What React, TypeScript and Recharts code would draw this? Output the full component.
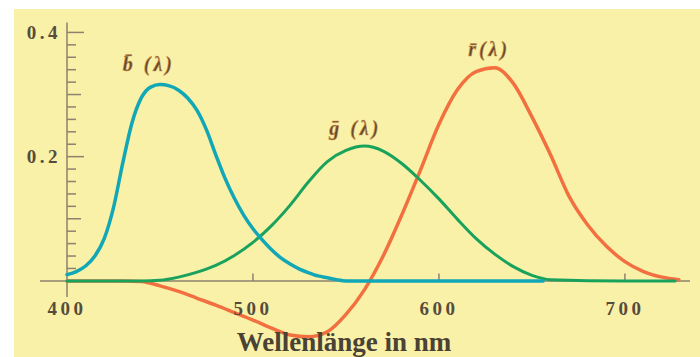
import { LineChart, Line, XAxis, YAxis, ReferenceLine, ReferenceDot } from 'recharts';

// wavelengths (nm) and tristimulus values
const blueNm = [400, 405, 410, 415, 420, 425, 430, 435, 440, 445, 450, 455, 460, 465, 470, 475, 480, 485, 490, 495, 500, 505, 510, 515, 520, 525, 530, 535, 540, 545, 550, 600, 656];
const blueVal = [0.010, 0.015, 0.024, 0.040, 0.068, 0.118, 0.190, 0.255, 0.295, 0.312, 0.316, 0.314, 0.307, 0.294, 0.274, 0.243, 0.203, 0.165, 0.133, 0.106, 0.084, 0.066, 0.050, 0.037, 0.027, 0.019, 0.013, 0.008, 0.005, 0.002, 0, 0, 0];

const greenNm = [400, 440, 450, 460, 470, 480, 490, 500, 510, 520, 530, 540, 550, 560, 570, 580, 590, 600, 610, 620, 630, 640, 650, 660, 700, 727];
const greenVal = [0, 0, 0.001, 0.006, 0.014, 0.025, 0.041, 0.062, 0.089, 0.122, 0.160, 0.192, 0.210, 0.217, 0.209, 0.189, 0.162, 0.132, 0.099, 0.068, 0.043, 0.023, 0.009, 0.002, 0, 0];

const redNm = [400, 430, 440, 450, 460, 470, 480, 490, 500, 510, 520, 530, 540, 550, 560, 570, 580, 590, 600, 610, 620, 630, 640, 650, 660, 670, 680, 690, 700, 710, 720, 729];
const redVal = [0, 0, -0.001, -0.008, -0.017, -0.028, -0.039, -0.051, -0.063, -0.076, -0.087, -0.090, -0.082, -0.054, -0.014, 0.040, 0.106, 0.178, 0.252, 0.308, 0.337, 0.343, 0.318, 0.264, 0.203, 0.136, 0.090, 0.056, 0.031, 0.015, 0.006, 0.002];

const yTicks = [0.02, 0.04, 0.06, 0.08, 0.1, 0.12, 0.14, 0.16, 0.18, 0.2, 0.22, 0.24, 0.26, 0.28, 0.3, 0.32, 0.34, 0.36, 0.38, 0.4];
const yMajor = [0.2, 0.4];
const yMid = [0.1, 0.3];
const xTicks = [500, 600, 700];
const xLabels = [400, 500, 600, 700];

const curveLabels = [
  { text: 'b\u0304 (\u03bb)', nm: 444, value: 0.349 },
  { text: 'g\u0304 (\u03bb)', nm: 555, value: 0.246 },
  { text: 'r\u0304(\u03bb)', nm: 627, value: 0.373 },
];

const BG = '#f9f1a8';
const AXIS = '#8d826f';
const INK = '#564c3c';
const SERIF = '"Liberation Serif", "DejaVu Serif", serif';

const toPoints = (xs: number[], ys: number[]) => xs.map((nm, i) => ({ nm, v: ys[i] }));

function YTick(props: any) {
  const { x, y, payload } = props;
  const v = payload.value;
  const major = yMajor.includes(v);
  const len = major ? 17 : yMid.includes(v) ? 14 : 9;
  return (
    <g>
      <line x1={x} x2={x + len} y1={y} y2={y} stroke={AXIS} strokeWidth={1.5} />
      {major && (
        <text x={x - 6} y={y} dy="0.35em" textAnchor="end" fill={INK} fontFamily={SERIF}
          fontWeight="bold" fontSize={19} letterSpacing={3.5}>
          {v.toFixed(1)}
        </text>
      )}
    </g>
  );
}

export default function App() {
  return (
    <div style={{ position: 'fixed', left: 0, top: 0, width: 700, height: 357, background: '#fff' }}>
      <div style={{ position: 'absolute', left: 14, top: 9, right: 0, bottom: 0, background: BG }} />
      <div style={{ position: 'absolute', left: 0, top: 0 }}>
        <LineChart width={700} height={357} margin={{ top: 20, right: 10, bottom: 14, left: 17 }}>
          <XAxis dataKey="nm" type="number" domain={[400, 735]} hide />
          <YAxis type="number" domain={[-0.1, 0.42]} ticks={yTicks} interval={0} width={50}
            axisLine={false} tickLine={false} tickSize={0} tickMargin={0} tick={<YTick />} />

          <ReferenceLine segment={[{ x: 385.5, y: 0 }, { x: 735, y: 0 }]} stroke={AXIS} strokeWidth={1.5} ifOverflow="visible" />
          <ReferenceLine segment={[{ x: 400, y: -0.026 }, { x: 400, y: 0.416 }]} stroke={AXIS} strokeWidth={1.5} ifOverflow="visible" />
          {xTicks.map(t => (
            <ReferenceLine key={t} segment={[{ x: t, y: 0 }, { x: t, y: 0.012 }]} stroke={AXIS} strokeWidth={1.5} ifOverflow="visible" />
          ))}
          {xLabels.map(t => (
            <ReferenceDot key={'l' + t} x={t} y={0} r={0} stroke="none" ifOverflow="visible"
              label={{ value: String(t), position: 'bottom', offset: 21, fill: INK, fontFamily: SERIF, fontWeight: 'bold', fontSize: 19, letterSpacing: 3.5 }} />
          ))}
          <ReferenceDot x={549} y={-0.1} r={0} stroke="none" ifOverflow="visible"
            label={{ value: 'Wellenlänge in nm', position: 'bottom', offset: -11, fill: '#4a4234', fontFamily: SERIF, fontWeight: 'bold', fontSize: 27 }} />

          <Line data={toPoints(redNm, redVal)} dataKey="v" type="monotone" stroke="#f27040" strokeWidth={3.5}
            strokeLinecap="round" dot={false} isAnimationActive={false} />
          <Line data={toPoints(greenNm, greenVal)} dataKey="v" type="monotone" stroke="#19a25c" strokeWidth={3}
            strokeLinecap="round" dot={false} isAnimationActive={false} />
          <Line data={toPoints(blueNm, blueVal)} dataKey="v" type="monotone" stroke="#12a7b6" strokeWidth={3.5}
            strokeLinecap="round" dot={false} isAnimationActive={false} />

          {curveLabels.map(c => (
            <ReferenceDot key={c.text} x={c.nm} y={c.value} r={0} stroke="none" ifOverflow="visible"
              label={{ value: c.text, position: 'center', fill: '#5f4a2e', stroke: '#d9954e', strokeWidth: 0.5, fontFamily: SERIF, fontWeight: 'bold', fontStyle: 'italic', fontSize: 20, letterSpacing: 3 }} />
          ))}
        </LineChart>
      </div>
    </div>
  );
}
